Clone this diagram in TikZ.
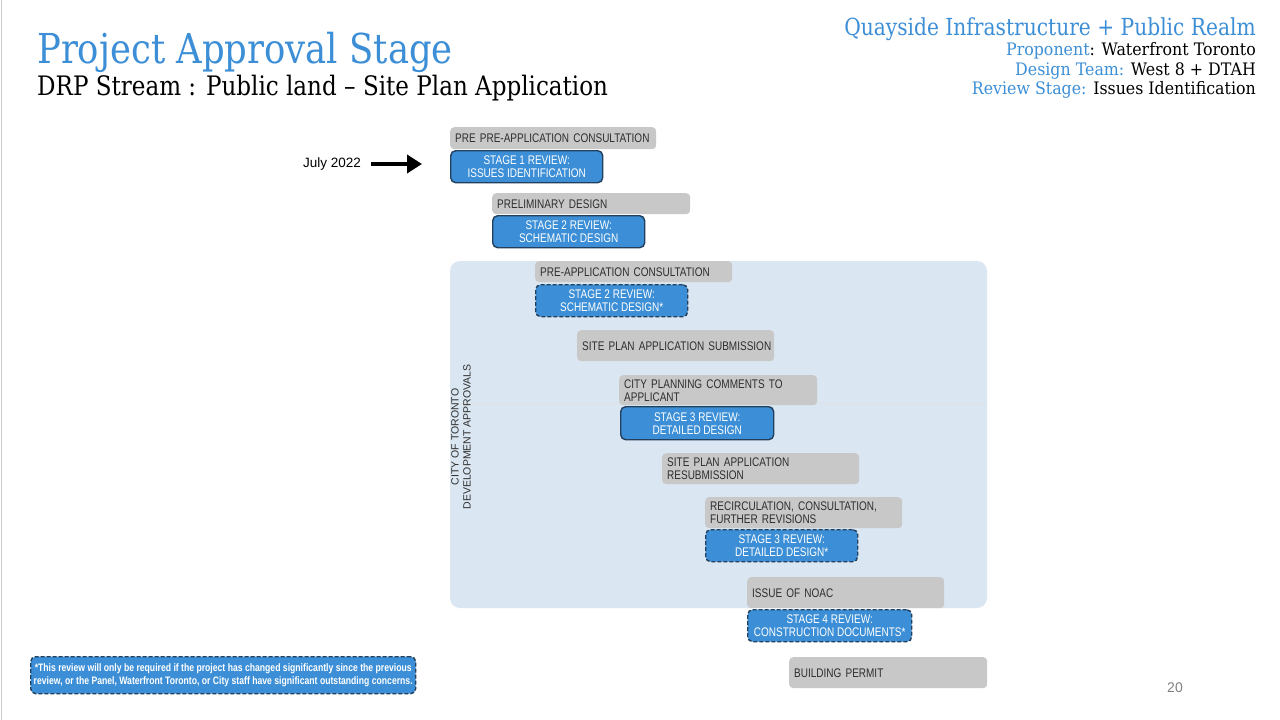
\documentclass[tikz,border=0pt]{standalone}
\usepackage{fontspec}
\usetikzlibrary{arrows.meta}
\setmainfont{Liberation Sans}
\newfontfamily\headfont[FakeStretch=0.86]{DejaVu Serif}
\newfontfamily\infofont[FakeStretch=0.92]{DejaVu Serif}
\newfontfamily\boxfont[FakeStretch=0.8]{Liberation Sans}
\definecolor{drpblue}{HTML}{3C8FD6}
\definecolor{drpnavy}{HTML}{22405E}
\definecolor{drpgray}{HTML}{C8C8C8}
\definecolor{drptext}{HTML}{2E2E2E}
\definecolor{drppanel}{HTML}{DAE6F1}
\tikzset{
  stagebox/.style={rounded corners=4pt, fill=drpgray, anchor=north west, inner xsep=5pt, inner ysep=0pt,
    font=\boxfont\fontsize{12.5}{13}\selectfont, text=drptext, align=left},
  reviewbox/.style={rounded corners=5pt, fill=drpblue, draw=drpnavy, line width=1.4pt, anchor=north west,
    inner sep=0pt, font=\boxfont\fontsize{12.5}{13}\selectfont, text=white, align=center},
  reviewopt/.style={reviewbox, dash pattern=on 4pt off 2pt},
}
\begin{document}
\begin{tikzpicture}[x=1pt,y=-1pt]
        \useasboundingbox[fill=white] (0,0) rectangle (1280,720);
        \draw[gray!40, line width=1pt] (1,0) -- (1,720);

        % Header
        \node[anchor=base west, inner sep=0pt, text=drpblue, font=\headfont\fontsize{41.2}{41}\selectfont] (title) at (37,63) {Project Approval Stage};
        \node[anchor=base west, inner sep=0pt, font=\headfont\fontsize{26.8}{27}\selectfont] (subtitle) at (37,95) {DRP Stream : Public land – Site Plan Application};
        \node[anchor=base east, inner sep=0pt, text=drpblue, font=\headfont\fontsize{23.5}{24}\selectfont] (project) at (1256,35) {Quayside Infrastructure + Public Realm};
        \node[anchor=base east, inner sep=0pt, font=\infofont\fontsize{17.2}{17}\selectfont] (proponent) at (1256,55) {\textcolor{drpblue}{Proponent}: Waterfront Toronto};
        \node[anchor=base east, inner sep=0pt, font=\infofont\fontsize{17.2}{17}\selectfont] (team) at (1256,75) {\textcolor{drpblue}{Design Team:} West 8 + DTAH};
        \node[anchor=base east, inner sep=0pt, font=\infofont\fontsize{17.2}{17}\selectfont] (stage) at (1256,94) {\textcolor{drpblue}{Review Stage:} Issues Identification};

        % City approvals panel
        \fill[drppanel, rounded corners=10pt] (450,261) rectangle (987,608);
        \draw[drpnavy!15, line width=0.6pt] (450,403) -- (987,403);
        \node[rotate=90, align=center, text=drptext, font=\fontsize{10.5}{12}\selectfont] (city) at (461,437) {CITY OF TORONTO\\DEVELOPMENT APPROVALS};

        % Steps
        \node[stagebox, minimum width=206pt, minimum height=22pt, text width=196pt] (prepre) at (450,127) {\mbox{PRE PRE-APPLICATION CONSULTATION}};
        \node[reviewbox, minimum width=152pt, minimum height=32pt] (s1rev) at (450,150) {STAGE 1 REVIEW:\\ISSUES IDENTIFICATION};
        \node[stagebox, minimum width=198pt, minimum height=21pt, text width=188pt] (prelim) at (492,193) {PRELIMINARY DESIGN};
        \node[reviewbox, minimum width=152pt, minimum height=32pt] (s2rev) at (492,215) {STAGE 2 REVIEW:\\SCHEMATIC DESIGN};
        \node[stagebox, minimum width=197pt, minimum height=21pt, text width=187pt] (preapp) at (535,261) {PRE-APPLICATION CONSULTATION};
        \node[reviewopt, minimum width=152pt, minimum height=32pt] (s2opt) at (535,284) {STAGE 2 REVIEW:\\SCHEMATIC DESIGN*};
        \node[stagebox, minimum width=197pt, minimum height=31pt, text width=187pt] (submit) at (577,330) {\mbox{SITE PLAN APPLICATION SUBMISSION}};
        \node[stagebox, minimum width=198pt, minimum height=30pt, text width=188pt] (comments) at (619,375) {CITY PLANNING COMMENTS TO\\APPLICANT};
        \node[reviewbox, minimum width=153pt, minimum height=33pt] (s3rev) at (620,406) {STAGE 3 REVIEW:\\DETAILED DESIGN};
        \node[stagebox, minimum width=197pt, minimum height=31pt, text width=187pt] (resubmit) at (662,453) {SITE PLAN APPLICATION\\RESUBMISSION};
        \node[stagebox, minimum width=197pt, minimum height=31pt, text width=187pt] (recirc) at (705,497) {RECIRCULATION, CONSULTATION,\\FURTHER REVISIONS};
        \node[reviewopt, minimum width=152pt, minimum height=32pt] (s3opt) at (705,529) {STAGE 3 REVIEW:\\DETAILED DESIGN*};
        \node[stagebox, minimum width=197pt, minimum height=31pt, text width=187pt] (noac) at (747,577) {ISSUE OF NOAC};
        \node[reviewopt, minimum width=164pt, minimum height=32pt] (s4opt) at (747,609) {STAGE 4 REVIEW:\\CONSTRUCTION DOCUMENTS*};
        \node[stagebox, minimum width=198pt, minimum height=31pt, text width=188pt] (permit) at (789,657) {BUILDING PERMIT};

        % Current stage marker
        \node[anchor=east, inner sep=0pt, font=\fontsize{13.5}{14}\selectfont] (july) at (361,164) {July 2022};
        \coordinate (marktip) at (422,164);
        \draw[-{Triangle[length=15pt,width=18pt]}, line width=4.5pt] ([xshift=10pt]july.east) -- (marktip);

        % Footnote
        \node[reviewopt, minimum width=385pt, minimum height=37pt, font=\boxfont\bfseries\fontsize{10.8}{13}\selectfont] (note) at (30,656) {*This review will only be required if the project has changed significantly since the previous\\review, or the Panel, Waterfront Toronto, or City staff have significant outstanding concerns.};

        \node[anchor=base, inner sep=0pt, text=gray, font=\fontsize{14}{14}\selectfont] (page) at (1175,692) {20};
    \end{tikzpicture}
\end{document}
